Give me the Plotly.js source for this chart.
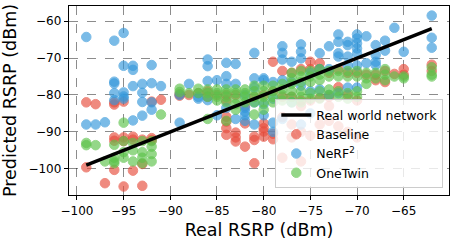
<!DOCTYPE html>
<html>
<head>
<meta charset="utf-8">
<script src="https://cdn.plot.ly/plotly-3.0.1.min.js"></script>
<style>html,body{margin:0;padding:0;background:#fff}#chart{width:465px;height:241px}</style>
</head>
<body>
<div id="chart"></div>
<script>
// Real RSRP (x) and predicted RSRP (y), dBm
const baselineX = [
  -99,-99, -98, -97, -96,-96,-96,-96,-96, -95,-95,-95,-95, -94,-94,-94, -93,-93,-93, -92,-92,-92, -91,
  -89,-89, -88, -87, -86,-86, -85, -84,-84,-84,-84,-84,-84, -83,-83,-83,-83, -82,-82,-82, -81,-81,-81,-81,
  -80,-80,-80,-80,-80, -79,-79,-79,-79, -78,-78,-78,-78, -77,-77,-77,-77, -76,-76,-76,-76,-76,
  -75,-75,-75,-75, -74,-74,-74,-74, -73,-73,-73,-73, -72,-72,-72, -71,-71,-71, -70,-70,-70,
  -69, -68,-68, -67,-67, -66, -65,-65, -62,-62
];
const baselineY = [
  -82,-99.6, -82.5, -103.9, -82,-82.6,-91.5,-92.4,-100.3, -81.8,-91.5,-92.5,-104.8, -91.3,-92.1,-100.5, -92.1,-98.7,-104.6, -81.8,-91.7,-92.3, -81.3,
  -79.8,-80.2, -80, -79.5, -79,-80.5, -80, -80,-81.5,-85.9,-87.2,-89,-90.8, -80,-90.2,-91.5,-92.6, -83,-87.7,-94, -80.5,-91.3,-92.2,-98.5,
  -80,-87.7,-89,-89.9,-91.3, -71,-79,-90.5,-92, -73.5,-80.5,-86,-97, -74,-80.5,-88,-91.5, -73,-81.5,-83,-90,-98,
  -71,-73,-81.5,-91, -71.4,-73,-80.8,-88, -74,-80.5,-83,-87, -73,-77.9,-88.5, -74,-80,-90, -74,-81.5,-91.5,
  -74.5, -74.5,-76, -73.5,-76.5, -74.3, -73,-74.5, -71.8,-73.5
];

const nerfX = [
  -99,-99, -98, -97, -96,-96,-96,-96,-96, -95,-95,-95,-95,-95, -94,-94,-94,-94, -93,-93,-93,-93, -92,-92,-92,-92, -91,
  -89,-89, -88, -87,-87, -86,-86,-86,-86, -85,-85, -84,-84,-84,-84, -83,-83,-83, -82,-82,-82,-82,-82,
  -81,-81,-81,-81,-81, -80,-80,-80,-80, -79,-79,-79,-79, -78,-78,-78,-78,-78, -77,-77,-77,
  -76,-76,-76,-76,-76, -75,-75,-75, -74,-74,-74, -73,-73,-73, -72,-72,-72,-72,-72,
  -71,-71,-71,-71,-71, -70,-70,-70,-70,-70,-70,-70, -69,-69, -68,-68,-68,-68, -67,-67, -66, -65, -62,-62,-62
];
const nerfY = [
  -64.3,-88, -88, -87.4, -65.3,-76.4,-76.9,-79.5,-81.4, -63.2,-72.1,-79.3,-80.4,-81, -72.1,-73.2,-77.6,-86.9, -77,-79.4,-81.9,-85.6, -71.9,-76.8,-82,-84, -77.6,
  -80,-87.5, -77, -80.5,-81, -70.4,-72.2,-76.2,-81.4, -76,-85.5, -71.3,-74.9,-77,-83.5, -71.6,-77,-86.5, -80,-83.5,-84.5,-85.5,-87,
  -68.6,-75.5,-78,-82,-88, -75.5,-76,-82.5,-85.5, -76.5,-81,-87.5,-90, -66.8,-68.6,-70.4,-76,-86.5, -71,-76.5,-82,
  -66.3,-68.3,-70.1,-77.5,-88, -74,-79,-85, -68.7,-73,-78.5, -66.8,-73,-80, -63.6,-65.6,-68.7,-69.6,-79.5,
  -65.6,-66.5,-69.6,-72,-78, -63.6,-64.7,-66,-67.4,-68.7,-72,-78, -64.1,-71.4, -66.5,-69.2,-71,-71.9, -65.3,-68, -61.8, -68.3, -58.5,-64.5,-67.2
];

const onetwinX = [
  -99,-99, -98, -97, -96,-96,-96,-96, -95,-95,-95,-95, -94,-94,-94, -93,-93,-93,-93, -92,-92,-92,-92, -91,
  -89,-89, -88, -87,-87, -86,-86,-86,-86, -85,-85,-85,-85, -84,-84,-84,-84,-84, -83,-83,-83,-83,-83,
  -82,-82,-82,-82, -81,-81,-81,-81,-81, -80,-80,-80,-80,-80, -79,-79,-79,-79, -78,-78,-78,-78,
  -77,-77,-77,-77,-77,-77, -76,-76,-76,-76,-76,-76, -75,-75,-75,-75,-75, -74,-74,-74,-74,-74,
  -73,-73,-73,-73, -72,-72,-72,-72, -71,-71,-71,-71, -70,-70,-70,-70, -69,-69,-69, -68,-68,
  -67,-67,-67, -66, -65,-65, -62,-62,-62
];
const onetwinY = [
  -93,-93.6, -93.6, -98, -93.5,-97,-98,-98.5, -87.5,-92.5,-95.5,-97, -93,-95,-98, -92.5,-95.5,-97,-98.5, -92.5,-94,-96,-98, -85.3,
  -78.3,-79.2, -79.5, -78.3,-79.5, -78.5,-79.5,-80.5,-86.5, -78.5,-79.5,-80.5,-81.5, -78.5,-79.5,-80.5,-82,-87, -78.5,-79.5,-81,-82.5,-84,
  -78.5,-79.5,-80.5,-82, -77.5,-79,-80.5,-82,-85.3, -77.5,-79,-80.5,-82,-84, -77.5,-79,-80.5,-82, -77,-78.5,-80,-81.5,
  -74,-75.5,-77,-79,-80.5,-82, -73.5,-75,-76.5,-79,-80.5,-82, -73.5,-75,-76.5,-79.5,-81, -73,-74.5,-76,-79,-81,
  -73.5,-75,-78.5,-80, -73.5,-75,-79,-80.5, -73.5,-75,-79.5,-81, -73.5,-75,-79,-80.5, -74,-75.5,-77, -74,-75.5,
  -73,-74.5,-76, -75, -75,-75.5, -72.5,-74.5,-75
];

// Reference line: predicted = real
const realX = [-99, -62];
const realY = [-99, -62];

const seriesNames = ['Baseline', 'NeRF<sup>2</sup>', 'OneTwin', 'Real world network'];
const seriesColors = ['#e74c3c', '#3498db', '#5cc34a', '#000000'];

function scatterTrace(x, y, i) {
  return {
    type: 'scatter', mode: 'markers', x: x, y: y, name: seriesNames[i],
    legendrank: i + 2,
    marker: {size: 9.5, color: seriesColors[i], opacity: 0.65, line: {color: seriesColors[i], width: 1}},
    hoverinfo: 'skip'
  };
}

const traces = [
  scatterTrace(baselineX, baselineY, 0),
  scatterTrace(nerfX, nerfY, 1),
  scatterTrace(onetwinX, onetwinY, 2),
  {type: 'scatter', mode: 'lines', x: realX, y: realY, name: seriesNames[3], legendrank: 1,
   line: {color: seriesColors[3], width: 3.5}}
];

const axisCommon = {
  showline: true, mirror: true, linecolor: '#000', linewidth: 1.2,
  ticks: 'outside', ticklen: 4, tickwidth: 1, tickcolor: '#000',
  showgrid: true, gridcolor: 'rgba(0,0,0,0.45)', griddash: 'dash', gridwidth: 1,
  zeroline: false,
  tickfont: {family: 'DejaVu Sans', size: 12, color: '#000'}
};

const layout = {
  width: 465, height: 241,
  margin: {l: 69, r: 16, t: 6, b: 46},
  paper_bgcolor: '#fff', plot_bgcolor: '#fff',
  font: {family: 'DejaVu Sans', color: '#000'},
  showlegend: true,
  xaxis: Object.assign({}, axisCommon, {
    range: [-100.85, -60.15], tick0: -100, dtick: 5,
    title: {text: 'Real RSRP (dBm)', font: {family: 'DejaVu Sans', size: 17.5, color: '#000'}, standoff: 7}
  }),
  yaxis: Object.assign({}, axisCommon, {
    range: [-107.1, -55.9], tick0: -100, dtick: 10,
    title: {text: 'Predicted RSRP (dBm)', font: {family: 'DejaVu Sans', size: 17.5, color: '#000'}, standoff: 9}
  }),
  legend: {
    x: 0.985, y: 0.035, xanchor: 'right', yanchor: 'bottom',
    bgcolor: 'rgba(255,255,255,0.8)', bordercolor: '#cccccc', borderwidth: 1,
    font: {family: 'DejaVu Sans', size: 12.5, color: '#000'},
    tracegroupgap: 0, itemwidth: 30
  }
};

Plotly.newPlot('chart', traces, layout, {displayModeBar: false, staticPlot: true});
</script>
</body>
</html>
